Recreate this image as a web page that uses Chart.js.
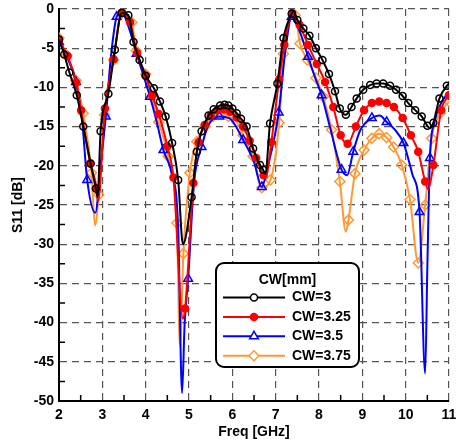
<!DOCTYPE html>
<html lang="en">
<head>
<meta charset="UTF-8">
<title>S11 vs Freq</title>
<script src="https://cdn.jsdelivr.net/npm/chart.js"></script>
<style>
  html, body { margin: 0; padding: 0; background: #fff; }
</style>
</head>
<body>
<canvas id="s11Chart" width="456" height="444"></canvas>
<script>
// marker points (freq in GHz, S11 in dB)
const cw3Freq = [2.00, 2.12, 2.24, 2.41, 2.56, 2.73, 2.85, 2.96, 3.14, 3.29, 3.45, 3.60, 3.72, 3.86, 4.00, 4.19, 4.33, 4.46, 4.61, 4.75,
  5.06, 5.18, 5.29, 5.45, 5.57, 5.72, 5.82, 5.91, 6.00, 6.10, 6.20, 6.33, 6.48, 6.64, 6.71, 6.87, 7.04, 7.18, 7.37, 7.50,
  7.64, 7.78, 7.93, 8.08, 8.23, 8.37, 8.48, 8.62, 8.75, 8.87, 9.02, 9.18, 9.33, 9.48, 9.64, 9.78, 9.93, 10.06, 10.22, 10.37,
  10.50, 10.64, 10.78, 10.95];
const cw3S11 = [-3.9, -5.8, -8.1, -11.0, -15.0, -19.7, -22.9, -15.6, -10.8, -5.2, -0.5, -0.8, -4.2, -6.5, -8.5, -10.1, -11.8, -13.7, -17.1, -21.8,
  -24.0, -18.2, -15.6, -13.6, -12.8, -12.3, -12.2, -12.3, -12.7, -13.3, -14.0, -15.0, -17.8, -19.9, -20.5, -14.6, -9.5, -3.7, -0.6, -1.4,
  -2.5, -3.4, -5.0, -6.5, -8.3, -10.5, -12.7, -13.5, -12.5, -11.4, -10.3, -9.7, -9.5, -9.5, -9.8, -10.3, -11.1, -12.0, -12.9, -13.7,
  -14.9, -14.5, -11.4, -9.8];
// extra curve points without a marker (mostly the narrow dips)
const cw3LineFreq = [2.89, 4.86, 6.76, 7.42, 10.56, 11.00];
const cw3LineS11 = [-24.0, -30.0, -21.0, -0.3, -15.2, -9.5];

const cw325Freq = [2.00, 2.20, 2.40, 2.51, 2.72, 2.87, 3.06, 3.26, 3.45, 3.64, 3.80, 4.00, 4.15, 4.30, 4.50, 4.64, 4.91, 5.10, 5.22, 5.36,
  5.50, 5.65, 5.80, 5.95, 6.10, 6.25, 6.40, 6.55, 6.72, 6.90, 7.08, 7.20, 7.38, 7.55, 7.75, 7.95, 8.14, 8.33, 8.50, 8.66,
  8.85, 9.04, 9.22, 9.39, 9.56, 9.73, 9.93, 10.12, 10.29, 10.45, 10.64, 10.82, 11.00];
const cw325S11 = [-4.0, -6.0, -9.4, -12.9, -19.7, -22.9, -12.7, -6.4, -0.4, -1.7, -5.6, -8.5, -11.0, -13.4, -17.5, -21.5, -38.2, -22.2, -17.0, -14.8,
  -13.6, -12.9, -12.8, -13.1, -13.8, -15.0, -16.8, -19.0, -21.2, -17.0, -9.0, -4.6, -0.5, -2.0, -4.6, -7.0, -9.3, -12.5, -16.1, -17.2,
  -15.0, -12.9, -12.0, -11.8, -12.0, -12.5, -13.9, -16.1, -18.2, -22.0, -19.9, -12.9, -11.0];
const cw325LineFreq = [2.90, 4.86, 6.77, 10.52];
const cw325LineS11 = [-24.5, -39.5, -21.5, -23.0];

const cw35Freq = [2.00, 2.39, 2.65, 3.08, 3.33, 3.79, 4.10, 4.41, 4.98, 5.29, 5.70, 6.25, 6.68, 7.07, 7.37, 7.75, 8.06, 8.52, 8.79, 9.22,
  9.56, 9.95, 10.32, 10.56];
const cw35S11 = [-4.2, -9.3, -21.8, -13.7, -1.0, -5.7, -11.2, -18.0, -34.4, -17.6, -13.7, -16.7, -22.7, -13.2, -1.0, -6.1, -11.0, -20.5, -18.2, -13.9,
  -14.4, -17.1, -25.9, -19.0];
const cw35LineFreq = [2.20, 2.53, 2.84, 2.95, 3.20, 3.45, 3.60, 4.25, 4.60, 4.75, 4.84, 4.90, 5.12, 5.45, 5.95, 6.50, 6.80, 7.22, 7.55, 7.90,
  8.25, 8.65, 8.95, 9.40, 9.75, 10.15, 10.45, 10.50, 10.66, 10.82, 11.00];
const cw35LineS11 = [-6.3, -14.0, -26.0, -20.5, -6.0, -0.4, -2.2, -14.3, -21.0, -28.0, -49.0, -40.0, -22.0, -14.8, -14.0, -19.5, -20.5, -5.5, -2.8, -8.6,
  -15.0, -21.2, -15.5, -13.6, -15.4, -21.0, -46.5, -33.0, -14.5, -12.0, -10.5];

const cw375Freq = [2.00, 2.18, 2.39, 2.56, 2.75, 2.92, 3.05, 3.26, 3.45, 3.68, 3.78, 4.00, 4.14, 4.30, 4.52, 4.72, 4.87, 5.02, 5.18, 5.37,
  5.56, 5.72, 5.91, 6.10, 6.25, 6.48, 6.68, 6.88, 7.08, 7.18, 7.45, 7.56, 7.73, 7.93, 8.10, 8.29, 8.48, 8.68, 8.83, 9.04,
  9.22, 9.39, 9.56, 9.72, 9.91, 10.10, 10.29, 10.45, 10.60, 10.79, 11.00];
const cw375S11 = [-3.7, -5.9, -9.1, -13.3, -20.9, -23.7, -13.5, -6.5, -0.5, -1.7, -5.3, -8.3, -11.2, -14.4, -18.8, -27.3, -31.2, -20.9, -16.9, -15.0,
  -13.7, -13.3, -13.7, -14.4, -16.1, -18.8, -22.8, -21.8, -14.5, -5.7, -0.8, -4.4, -6.5, -8.8, -11.2, -15.4, -22.0, -26.9, -21.0, -18.0,
  -16.5, -15.9, -16.4, -17.6, -19.9, -24.3, -32.4, -25.0, -16.5, -13.3, -11.8];
const cw375LineFreq = [2.83, 4.79, 8.62];
const cw375LineS11 = [-27.6, -43.0, -28.4];

const xTicks = { min: 2, max: 11, step: 1 };
const yTicks = { min: -50, max: 0, step: 5 };
const legendTitle = 'CW[mm]';

const FONT = '"Liberation Sans", Arial, Helvetica, sans-serif';
Chart.defaults.font.family = FONT;
Chart.defaults.color = '#000';

function buildPoints(freq, s11, lineFreq, lineS11) {
  const pts = [];
  freq.forEach((f, i) => pts.push({ x: f, y: s11[i], mark: true }));
  lineFreq.forEach((f, i) => pts.push({ x: f, y: lineS11[i], mark: false }));
  return pts.sort((a, b) => a.x - b.x);
}

function series(label, pts, color, style, radius, filled) {
  return {
    label: label,
    data: pts,
    borderColor: color,
    backgroundColor: color,
    borderWidth: 2,
    cubicInterpolationMode: 'monotone',
    pointStyle: style,
    pointRadius: c => (c.raw && c.raw.mark ? radius : 0),
    pointHoverRadius: 0,
    pointBorderColor: color,
    pointBackgroundColor: filled ? color : 'rgba(0,0,0,0)',
    pointBorderWidth: 1.5,
    markerRadius: radius,
    markerFilled: filled
  };
}

// small inward minor ticks on the left and bottom axes
const minorTicks = {
  id: 'minorTicks',
  beforeDatasetsDraw(chart) {
    const { ctx, chartArea, scales } = chart;
    ctx.save();
    ctx.strokeStyle = '#000';
    ctx.lineWidth = 1.5;
    ctx.beginPath();
    for (let f = xTicks.min + 0.5; f < xTicks.max; f += 1) {
      const px = scales.x.getPixelForValue(f);
      ctx.moveTo(px, chartArea.bottom);
      ctx.lineTo(px, chartArea.bottom - 6);
    }
    for (let v = yTicks.max - 2.5; v > yTicks.min; v -= 5) {
      const py = scales.y.getPixelForValue(v);
      ctx.moveTo(chartArea.left, py);
      ctx.lineTo(chartArea.left + 6, py);
    }
    ctx.stroke();
    ctx.restore();
  }
};

// boxed legend inside the plot
const boxLegend = {
  id: 'boxLegend',
  afterDraw(chart) {
    const { ctx, chartArea } = chart;
    const x = chartArea.left + 157, y = chartArea.top + 254, w = 143, h = 104, r = 8;
    ctx.save();
    ctx.beginPath();
    ctx.moveTo(x + r, y);
    ctx.arcTo(x + w, y, x + w, y + h, r);
    ctx.arcTo(x + w, y + h, x, y + h, r);
    ctx.arcTo(x, y + h, x, y, r);
    ctx.arcTo(x, y, x + w, y, r);
    ctx.closePath();
    ctx.fillStyle = '#fff';
    ctx.fill();
    ctx.lineWidth = 2;
    ctx.strokeStyle = '#000';
    ctx.stroke();

    ctx.font = 'bold 14px ' + FONT;
    ctx.fillStyle = '#000';
    ctx.textAlign = 'center';
    ctx.textBaseline = 'middle';
    ctx.fillText(legendTitle, x + w / 2, y + 17);

    chart.data.datasets.forEach((ds, i) => {
      const ry = y + 34.5 + i * 19.4;
      ctx.strokeStyle = ds.borderColor;
      ctx.lineWidth = 2;
      ctx.beginPath();
      ctx.moveTo(x + 7, ry);
      ctx.lineTo(x + 69, ry);
      ctx.stroke();
      ctx.fillStyle = ds.markerFilled ? ds.borderColor : '#fff';
      ctx.lineWidth = 1.5;
      Chart.helpers.drawPoint(ctx, { pointStyle: ds.pointStyle, rotation: 0, radius: ds.markerRadius, borderWidth: 1.5 }, x + 38, ry);
      ctx.fillStyle = '#000';
      ctx.textAlign = 'left';
      ctx.fillText(ds.label, x + 76, ry);
    });
    ctx.restore();
  }
};

const gridColor = '#555';

new Chart(document.getElementById('s11Chart'), {
  type: 'line',
  data: {
    datasets: [
      series('CW=3', buildPoints(cw3Freq, cw3S11, cw3LineFreq, cw3LineS11), '#000000', 'circle', 3.5, false),
      series('CW=3.25', buildPoints(cw325Freq, cw325S11, cw325LineFreq, cw325LineS11), '#ff0000', 'circle', 3.5, true),
      series('CW=3.5', buildPoints(cw35Freq, cw35S11, cw35LineFreq, cw35LineS11), '#0000ff', 'triangle', 5, false),
      series('CW=3.75', buildPoints(cw375Freq, cw375S11, cw375LineFreq, cw375LineS11), '#ff9933', 'rectRot', 5, false)
    ]
  },
  options: {
    responsive: false,
    animation: false,
    layout: { padding: { top: 9, right: 7, left: 0, bottom: 0 } },
    plugins: { legend: { display: false }, tooltip: { enabled: false } },
    scales: {
      x: {
        type: 'linear',
        min: xTicks.min,
        max: xTicks.max,
        ticks: { stepSize: xTicks.step, font: { size: 14, weight: 'bold' }, padding: 6, maxRotation: 0 },
        grid: { color: gridColor, lineWidth: 1.2, drawTicks: false },
        border: { display: true, color: '#000', width: 2, dash: [7, 5] },
        title: { display: true, text: 'Freq [GHz]', font: { size: 14, weight: 'bold' }, padding: { top: 0, bottom: 3 } },
        afterFit(scale) { scale.height = 43; scale.paddingLeft = 0; scale.paddingRight = 0; }
      },
      y: {
        type: 'linear',
        min: yTicks.min,
        max: yTicks.max,
        ticks: { stepSize: yTicks.step, font: { size: 14, weight: 'bold' }, padding: 5 },
        grid: { color: gridColor, lineWidth: 1.2, drawTicks: false },
        border: { display: true, color: '#000', width: 2, dash: [7, 5] },
        title: { display: true, text: 'S11 [dB]', font: { size: 14, weight: 'bold' }, padding: { top: 10, bottom: 0 } },
        afterFit(scale) { scale.width = 59; scale.paddingTop = 0; scale.paddingBottom = 0; }
      }
    }
  },
  plugins: [minorTicks, boxLegend]
});
</script>
</body>
</html>
